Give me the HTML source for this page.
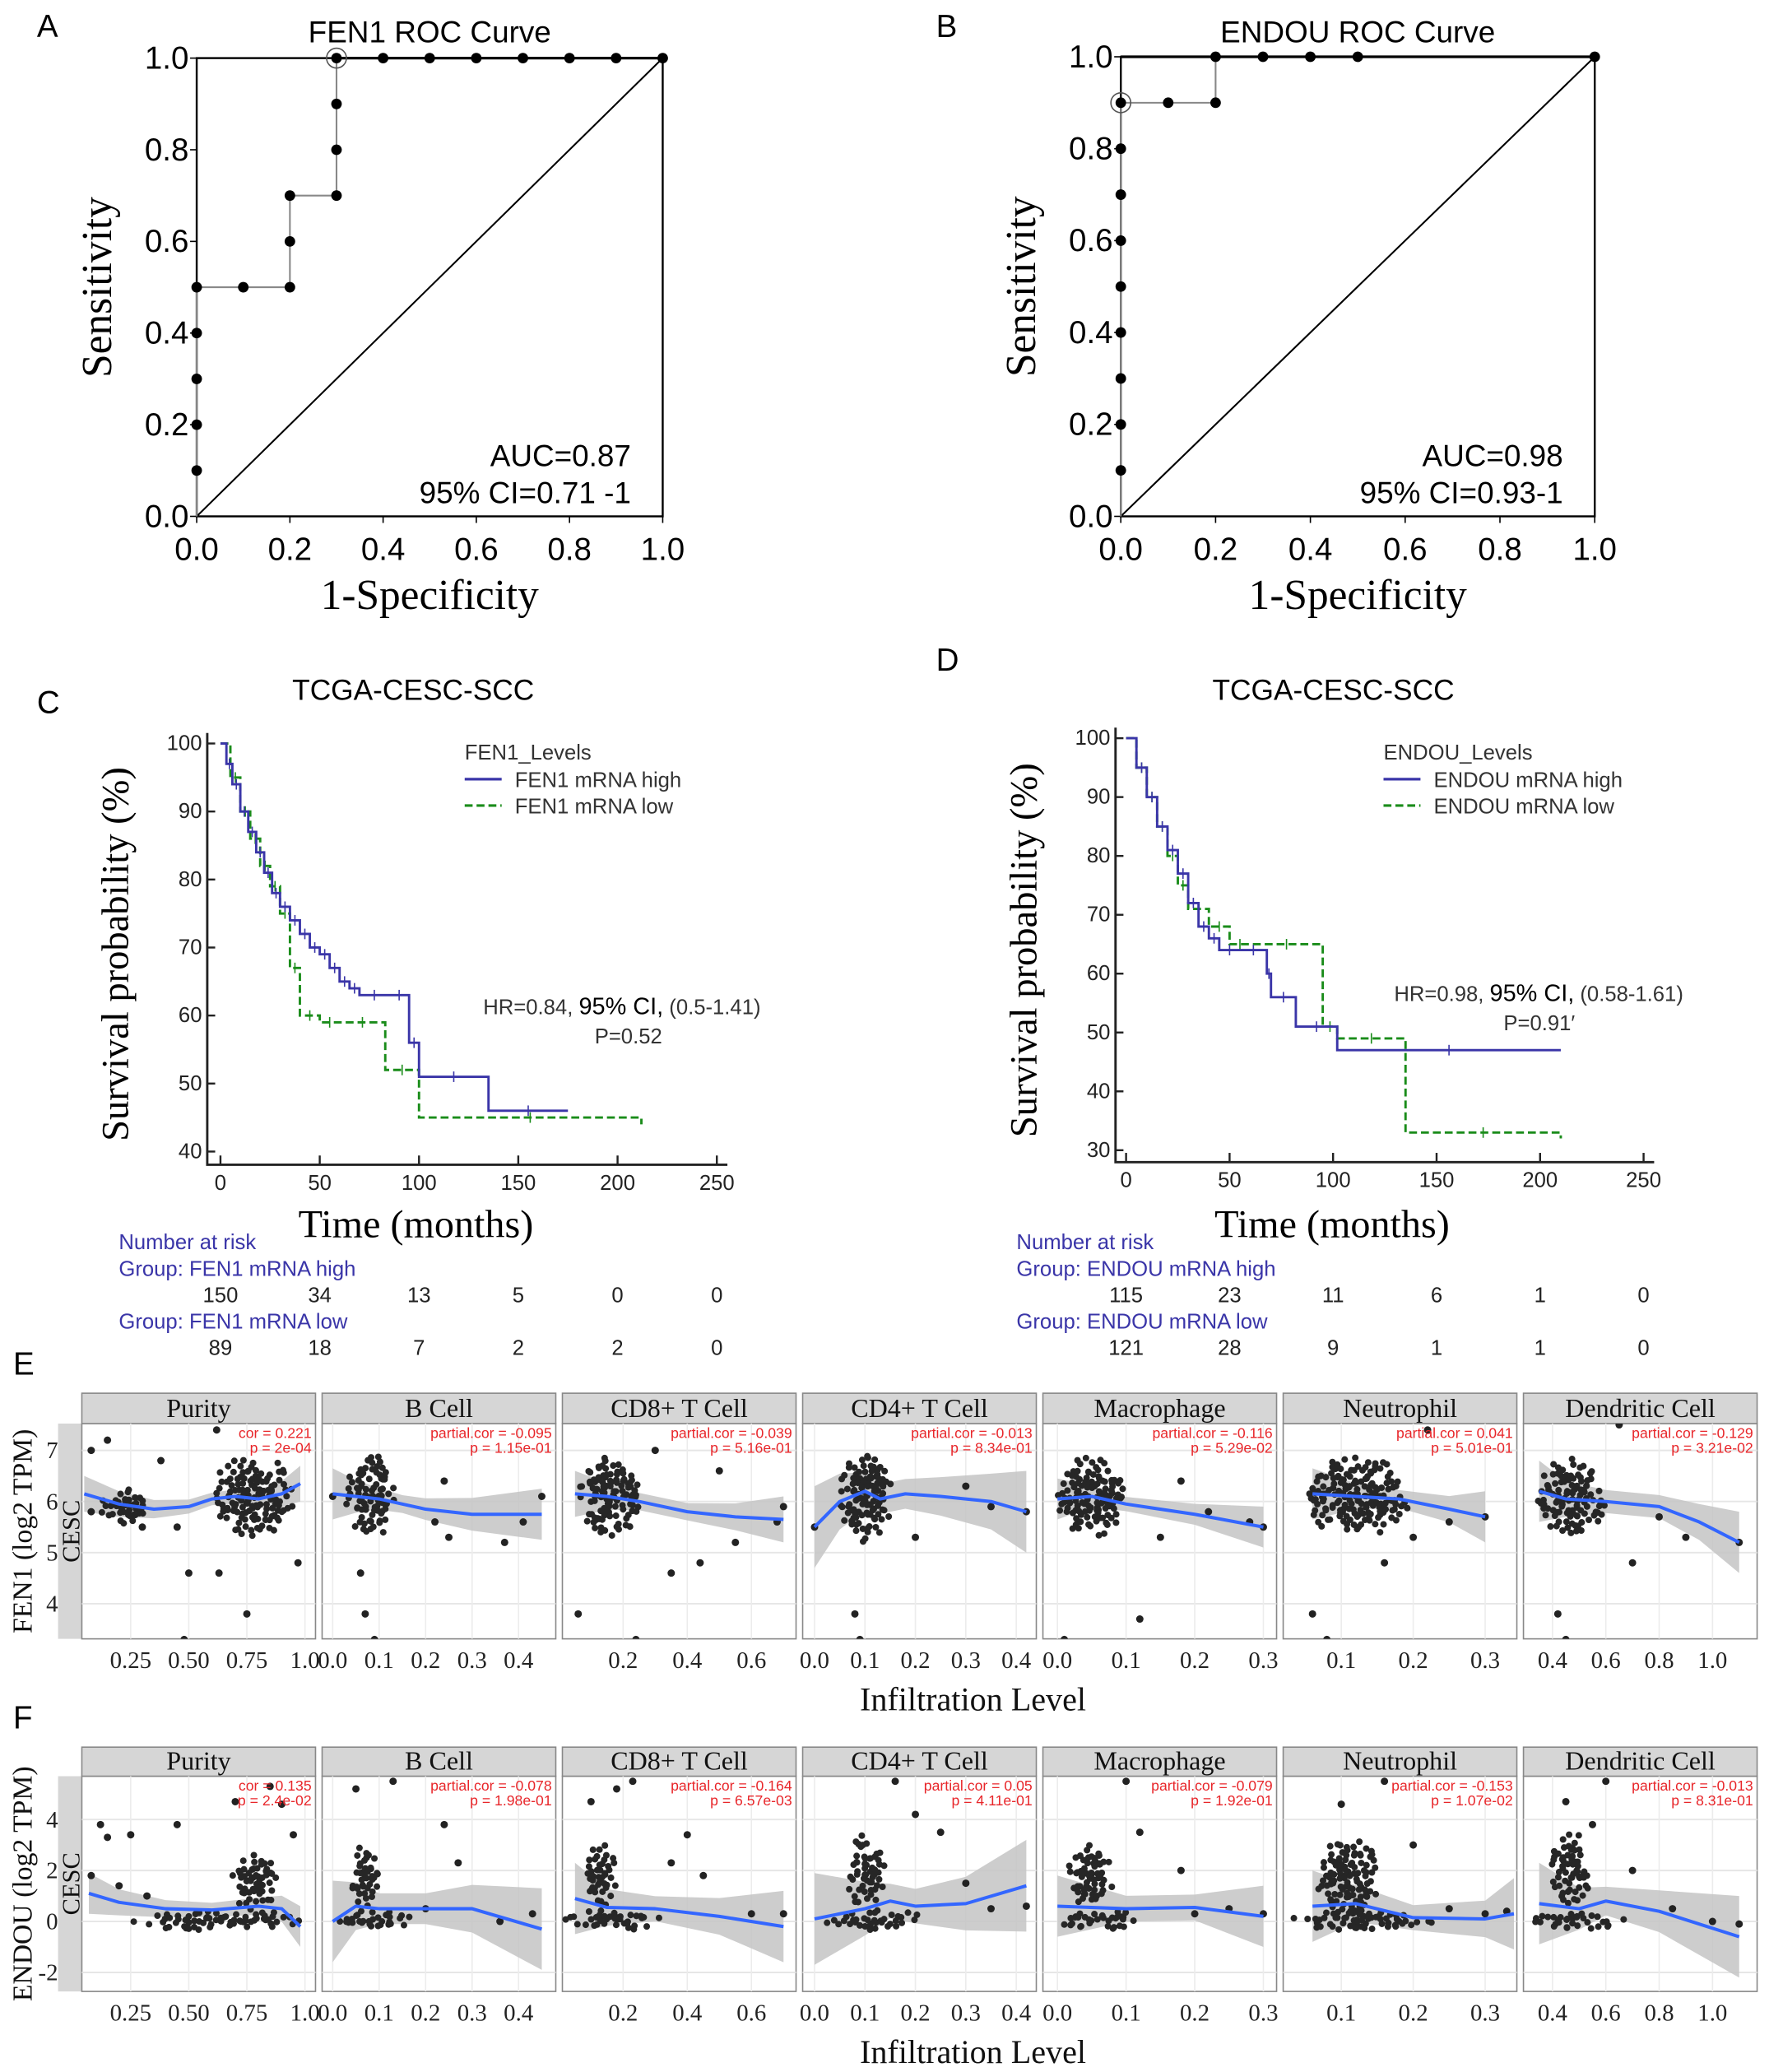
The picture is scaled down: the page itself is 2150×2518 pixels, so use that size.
<!DOCTYPE html>
<html><head><meta charset="utf-8"><style>
html,body{margin:0;padding:0;background:#fff;width:2150px;height:2518px;overflow:hidden}
svg{display:block}
</style></head><body>
<svg id="fig" xmlns="http://www.w3.org/2000/svg" width="2150" height="2518" viewBox="0 0 1340 1569" preserveAspectRatio="none"></svg>
<script>
// ---------- DATA ----------
const rocA_fpr=[0,0,0,0,0,0,0.1,0.2,0.2,0.2,0.3,0.3,0.3,0.3,0.4,0.5,0.6,0.7,0.8,0.9,1.0];
const rocA_tpr=[0,0.1,0.2,0.3,0.4,0.5,0.5,0.5,0.6,0.7,0.7,0.8,0.9,1.0,1.0,1.0,1.0,1.0,1.0,1.0,1.0];
const rocB_fpr=[0,0,0,0,0,0,0,0,0,0,0.1,0.2,0.2,0.3,0.4,0.5,1.0];
const rocB_tpr=[0,0.1,0.2,0.3,0.4,0.5,0.6,0.7,0.8,0.9,0.9,0.9,1.0,1.0,1.0,1.0,1.0];
const rocTicks=[0,0.2,0.4,0.6,0.8,1.0];
const kmC_hiT=[0,3,6,10,14,18,22,26,30,35,40,45,50,55,60,65,70,85,95,100,135,175];
const kmC_hiS=[100,97,94,90,87,84,81,78,76,74,72,70,69,67,65,64,63,63,56,51,46,46];
const kmC_loT=[0,5,10,15,20,25,30,35,40,50,60,83,100,212];
const kmC_loS=[100,95,90,86,82,79,75,67,60,59,59,52,45,44];
const kmD_hiT=[0,5,10,15,20,25,30,35,40,45,55,68,70,82,102,210];
const kmD_hiS=[100,95,90,85,81,77,72,68,66,64,64,60,56,51,47,47];
const kmD_loT=[0,5,10,15,20,25,30,40,50,60,95,102,135,210];
const kmD_loS=[100,95,90,85,80,75,71,68,65,65,51,49,33,32];
const kmTicksX=[0,50,100,150,200,250];
const kmC_TicksY=[40,50,60,70,80,90,100];
const kmD_TicksY=[30,40,50,60,70,80,90,100];
const riskC_hi=[150,34,13,5,0,0];
const riskC_lo=[89,18,7,2,2,0];
const riskD_hi=[115,23,11,6,1,0];
const riskD_lo=[121,28,9,1,1,0];
const panelNames=["Purity","B Cell","CD8+ T Cell","CD4+ T Cell","Macrophage","Neutrophil","Dendritic Cell"];
const panelTicks=[["0.25","0.50","0.75","1.0"],["0.0","0.1","0.2","0.3","0.4"],["0.2","0.4","0.6"],["0.0","0.1","0.2","0.3","0.4"],["0.0","0.1","0.2","0.3"],["0.1","0.2","0.3"],["0.4","0.6","0.8","1.0"]];
const corE=[["cor = 0.221","p = 2e-04"],["partial.cor = -0.095","p = 1.15e-01"],["partial.cor = -0.039","p = 5.16e-01"],["partial.cor = -0.013","p = 8.34e-01"],["partial.cor = -0.116","p = 5.29e-02"],["partial.cor = 0.041","p = 5.01e-01"],["partial.cor = -0.129","p = 3.21e-02"]];
const corF=[["cor = 0.135","p = 2.4e-02"],["partial.cor = -0.078","p = 1.98e-01"],["partial.cor = -0.164","p = 6.57e-03"],["partial.cor = 0.05","p = 4.11e-01"],["partial.cor = -0.079","p = 1.92e-01"],["partial.cor = -0.153","p = 1.07e-02"],["partial.cor = -0.013","p = 8.31e-01"]];
// clouds: [cx, cy, rx, ry] in data units (dense point regions)
const cloudE=[[[0.78,6.1,0.18,0.8],[0.22,5.9,0.1,0.35]],[[0.08,6.1,0.055,0.85]],[[0.16,6.1,0.1,0.8]],[[0.1,6.1,0.055,0.9]],[[0.05,6.1,0.05,0.8]],[[0.12,6.1,0.075,0.8]],[[0.47,6.1,0.13,0.8]]];
const cloudF=[[[0.62,0.05,0.38,0.4],[0.78,1.6,0.1,1.2]],[[0.09,0.05,0.085,0.4],[0.07,1.8,0.03,1.5]],[[0.17,0.05,0.15,0.4],[0.13,1.8,0.055,1.3]],[[0.12,0.05,0.1,0.4],[0.1,2.0,0.04,1.5]],[[0.06,0.05,0.065,0.4],[0.05,1.8,0.035,1.3]],[[0.13,0.05,0.1,0.4],[0.11,1.8,0.045,1.5]],[[0.5,0.05,0.18,0.4],[0.47,2.0,0.075,1.5]]];
const outE=[[[0.08,7.0],[0.15,7.2],[0.38,6.8],[0.5,4.6],[0.48,3.3],[0.75,3.8],[0.63,4.6],[0.97,4.8],[0.08,5.8],[0.3,5.5],[0.45,5.5],[0.62,7.4]],[[0.09,3.3],[0.07,3.8],[0.06,4.6],[0.24,6.4],[0.37,5.2],[0.41,5.6],[0.45,6.1],[0.25,5.3],[0.22,5.6],[0.0,6.1]],[[0.06,3.8],[0.24,3.3],[0.35,4.6],[0.44,4.8],[0.5,6.6],[0.55,5.2],[0.68,5.6],[0.7,5.9],[0.3,7.0]],[[0.08,3.8],[0.09,3.3],[0.3,6.3],[0.35,5.9],[0.42,5.8],[0.2,5.3],[0.0,5.5]],[[0.01,3.3],[0.12,3.7],[0.15,5.3],[0.22,5.8],[0.28,5.6],[0.3,5.5],[0.18,6.4]],[[0.08,3.3],[0.06,3.8],[0.2,5.3],[0.25,5.6],[0.3,5.7],[0.22,7.4],[0.16,4.8]],[[0.45,3.3],[0.42,3.8],[0.8,5.7],[0.9,5.3],[1.1,5.2],[0.65,7.5],[0.7,4.8]]];
const outF=[[[0.12,3.8],[0.15,3.3],[0.25,3.4],[0.45,3.8],[0.7,4.7],[0.85,5.3],[0.9,4.6],[0.95,3.4],[0.08,1.8],[0.2,1.4],[0.32,1.0]],[[0.13,5.5],[0.05,5.2],[0.24,3.8],[0.27,2.3],[0.36,0.0],[0.43,0.3],[0.2,0.5]],[[0.23,5.5],[0.18,5.2],[0.1,4.7],[0.4,3.4],[0.45,1.8],[0.6,0.3],[0.7,0.3],[0.35,2.3]],[[0.16,5.5],[0.2,4.2],[0.25,3.5],[0.3,1.5],[0.42,0.6],[0.35,0.5]],[[0.1,5.5],[0.12,3.5],[0.18,2.0],[0.25,0.5],[0.3,0.3],[0.2,0.3]],[[0.16,5.5],[0.1,4.6],[0.2,3.0],[0.25,0.5],[0.3,0.3],[0.33,0.4]],[[0.6,5.5],[0.45,4.7],[0.55,3.8],[0.7,2.0],[0.85,0.5],[1.0,0.0],[1.1,-0.1]]];
const smoothE=[[[0.05,6.15],[0.2,5.95],[0.35,5.85],[0.5,5.9],[0.6,6.05],[0.7,6.1],[0.8,6.05],[0.9,6.15],[0.98,6.35]],[[0,6.15],[0.05,6.1],[0.1,6.05],[0.15,5.95],[0.2,5.85],[0.3,5.75],[0.45,5.75]],[[0.05,6.15],[0.15,6.1],[0.25,6.0],[0.4,5.8],[0.55,5.7],[0.7,5.65]],[[0,5.5],[0.05,6.0],[0.1,6.2],[0.13,6.05],[0.18,6.15],[0.25,6.1],[0.35,6.0],[0.42,5.8]],[[0,6.05],[0.05,6.1],[0.1,5.95],[0.2,5.75],[0.3,5.5]],[[0.06,6.15],[0.12,6.1],[0.18,6.05],[0.25,5.85],[0.3,5.7]],[[0.35,6.2],[0.45,6.05],[0.6,6.0],[0.8,5.9],[0.95,5.6],[1.1,5.2]]];
const smoothF=[[[0.07,1.1],[0.2,0.75],[0.4,0.5],[0.6,0.45],[0.8,0.6],[0.9,0.5],[0.98,-0.2]],[[0,0.0],[0.05,0.6],[0.1,0.5],[0.2,0.5],[0.3,0.5],[0.45,-0.3]],[[0.05,0.9],[0.15,0.55],[0.3,0.5],[0.5,0.2],[0.7,-0.2]],[[0,0.1],[0.1,0.5],[0.15,0.8],[0.2,0.6],[0.3,0.7],[0.42,1.4]],[[0,0.6],[0.1,0.5],[0.2,0.55],[0.3,0.2]],[[0.06,0.6],[0.12,0.7],[0.2,0.15],[0.3,0.1],[0.34,0.3]],[[0.35,0.7],[0.5,0.5],[0.6,0.8],[0.8,0.4],[1.1,-0.6]]];
const ribE=[0.35,0.5,0.45,0.8,0.4,0.5,0.6];
const ribF=[0.8,1.6,1.4,1.8,1.2,1.4,1.6];

// ---------- helpers ----------
const svg=document.getElementById('fig');
const NS='http://www.w3.org/2000/svg';
function mk(tag,attrs,parent){const e=document.createElementNS(NS,tag);for(const k in attrs)e.setAttribute(k,attrs[k]);(parent||svg).appendChild(e);return e;}
function txt(x,y,s,size,fam,anchor,fill,parent,weight){const t=mk('text',{x:x,y:y,'font-size':size,'font-family':fam,'text-anchor':anchor||'start',fill:fill||'#000','font-weight':weight||'normal'},parent);t.textContent=s;return t;}
const SANS='"Liberation Sans", sans-serif', SERIF='"Liberation Serif", serif';
function hash(n){const s=Math.sin(n*12.9898+78.233)*43758.5453;return s-Math.floor(s);}

// ---------- ROC ----------
function roc(x0,x1,y0,y1,fpr,tpr,title,auc,ci,letter,lx,name,optIdx){
  const g=mk('g',{});
  
  
  const X=v=>x0+v*(x1-x0), Y=v=>y1-v*(y1-y0);
  const l=txt(lx,28,letter,24,SANS,'start','#000',g);
  
  
  const t=txt((x0+x1)/2,32,title,23,SANS,'middle','#000',g);
  
  
  const box=mk('rect',{x:x0,y:y0,width:x1-x0,height:y1-y0,fill:'none',stroke:'#000','stroke-width':1.5},g);
  
  
  const diag=mk('line',{x1:X(0),y1:Y(0),x2:X(1),y2:Y(1),stroke:'#000','stroke-width':1.3},g);
  
  
  rocTicks.forEach(v=>{
    mk('line',{x1:X(v),y1:y1,x2:X(v),y2:y1+5,stroke:'#000'},g);
    mk('line',{x1:x0-5,y1:Y(v),x2:x0,y2:Y(v),stroke:'#000'},g);
    const a=txt(X(v),y1+33,v.toFixed(1),24,SANS,'middle','#000',g);
    
    
    const b=txt(x0-6,Y(v)+8,v.toFixed(1),24,SANS,'end','#000',g);
    
    
  });
  let d='';fpr.forEach((v,i)=>{d+=(i?'L':'M')+X(v)+' '+Y(tpr[i]);});
  const p=mk('path',{d:d,fill:'none',stroke:'#888','stroke-width':1.3},g);
  
  
  const top=mk('line',{x1:X(fpr[optIdx]),y1:y0,x2:x1,y2:y0,stroke:'#000','stroke-width':2},g);
  
  
  fpr.forEach((v,i)=>{if(i===0)return;
    const c=mk('circle',{cx:X(v),cy:Y(tpr[i]),r:4,fill:'#000'},g);
    
    
  });
  const o=mk('circle',{cx:X(fpr[optIdx]),cy:Y(tpr[optIdx]),r:7.5,fill:'none',stroke:'#555','stroke-width':1},g);
  
  
  const yt=txt(0,0,'Sensitivity',32,SERIF,'middle','#000',g);
  yt.setAttribute('transform','translate('+(x0-65)+','+((y0+y1)/2)+') rotate(-90)');
  
  
  const xt=txt((x0+x1)/2,y1+70,'1-Specificity',32,SERIF,'middle','#000',g);
  
  
  const a1=txt(x1-24,y1-38,auc,23,SANS,'end','#000',g);
  
  
  const a2=txt(x1-24,y1-10,ci,23,SANS,'end','#000',g);
  
  
}
roc(149,502,44,391,rocA_fpr,rocA_tpr,'FEN1 ROC Curve','AUC=0.87','95% CI=0.71 -1','A',28,'roc-fen1',13);
roc(849,1208,43,391,rocB_fpr,rocB_tpr,'ENDOU ROC Curve','AUC=0.98','95% CI=0.93-1','B',709,'roc-endou',9);

// ---------- KM ----------
function km(o){
  const g=mk('g',{});
  
  
  const X=t=>o.x0+t*o.sx, Y=s=>o.ytop+(o.ymax-s)*o.sy;
  const l=txt(o.lx,o.ly,o.letter,24,SANS,'start','#000',g);
  
  
  const t=txt(o.tx,530,'TCGA-CESC-SCC',22,SANS,'middle','#000',g);
  
  
  const ax=mk('path',{d:'M'+o.ax+' '+(o.ytop-8)+'V'+o.ab+'H'+(X(250)+8),fill:'none',stroke:'#222','stroke-width':1.8},g);
  
  
  kmTicksX.forEach(v=>{mk('line',{x1:X(v),y1:o.ab,x2:X(v),y2:o.ab-7,stroke:'#222','stroke-width':1.5},g);
    const a=txt(X(v),o.ab+19,String(v),16,SANS,'middle','#222',g);
    
    });
  o.ticksY.forEach(v=>{mk('line',{x1:o.ax,y1:Y(v),x2:o.ax+6,y2:Y(v),stroke:'#222','stroke-width':1.5},g);
    const a=txt(o.ax-4,Y(v)+5,String(v),16,SANS,'end','#222',g);
    
    });
  function step(T,S,col,dash,nm){
    let d='M'+X(T[0])+' '+Y(S[0]);
    for(let i=1;i<T.length;i++){d+='H'+X(T[i])+'V'+Y(S[i]);}
    const p=mk('path',{d:d,fill:'none',stroke:col,'stroke-width':1.8,'stroke-dasharray':dash||'none'},g);
    
    
    for(let i=1;i<T.length-1;i+=1){const m=(T[i]+T[i+1])/2;
      const c=mk('line',{x1:X(m),y1:Y(S[i])-4,x2:X(m),y2:Y(S[i])+4,stroke:col,'stroke-width':1},g);
      
      }
  }
  step(o.loT,o.loS,'#1a8c1a','6 3','survival-curve-low');
  step(o.hiT,o.hiS,'#3a35a8',null,'survival-curve-high');
  const lg=mk('g',{},g);
  
  
  txt(o.legx,575,o.gene+'_Levels',16,SANS,'start','#333',lg);
  mk('line',{x1:o.legx,y1:590,x2:o.legx+28,y2:590,stroke:'#3a35a8','stroke-width':2},lg);
  txt(o.legx+38,596,o.gene+' mRNA high',16,SANS,'start','#333',lg);
  mk('line',{x1:o.legx,y1:610,x2:o.legx+28,y2:610,stroke:'#1a8c1a','stroke-width':2,'stroke-dasharray':'6 3'},lg);
  txt(o.legx+38,616,o.gene+' mRNA low',16,SANS,'start','#333',lg);
  const hr=txt(o.hrx,o.hry,'',16,SANS,'start','#333',g);
  
  
  hr.innerHTML=o.hr1+'<tspan font-size="18" fill="#000">95% CI,</tspan>'+o.hr2;
  const pv=txt(o.hrx+110,o.hry+22,o.p,16,SANS,'middle','#333',g);
  
  
  const yt=txt(0,0,'Survival probability (%)',29,SERIF,'middle','#000',g);
  yt.setAttribute('transform','translate('+(o.ax-60)+','+((o.ytop+o.ab)/2)+') rotate(-90)');
  
  
  const xt=txt(X(125)-40,937,'Time (months)',30,SERIF,'middle','#000',g);
  
  
  const rt=mk('g',{},g);
  
  
  txt(o.rx,946,'Number at risk',16,SANS,'start','#3a35a8',rt);
  txt(o.rx,966,'Group: '+o.gene+' mRNA high',16,SANS,'start','#3a35a8',rt);
  txt(o.rx,1006,'Group: '+o.gene+' mRNA low',16,SANS,'start','#3a35a8',rt);
  kmTicksX.forEach((v,i)=>{txt(X(v),986,String(o.rh[i]),16,SANS,'middle','#222',rt);txt(X(v),1026,String(o.rl[i]),16,SANS,'middle','#222',rt);});
}
km({name:'km-fen1',letter:'C',lx:28,ly:540,tx:313,gene:'FEN1',x0:167,sx:1.504,ytop:563,ymax:100,sy:5.15,ax:157,ab:882,ticksY:kmC_TicksY,hiT:kmC_hiT,hiS:kmC_hiS,loT:kmC_loT,loS:kmC_loS,legx:352,hrx:366,hry:768,hr1:'HR=0.84, ',hr2:' (0.5-1.41)',p:'P=0.52',rx:90,rh:riskC_hi,rl:riskC_lo});
km({name:'km-endou',letter:'D',lx:709,ly:508,tx:1010,gene:'ENDOU',x0:853,sx:1.568,ytop:559,ymax:100,sy:4.457,ax:845,ab:880,ticksY:kmD_TicksY,hiT:kmD_hiT,hiS:kmD_hiS,loT:kmD_loT,loS:kmD_loS,legx:1048,hrx:1056,hry:758,hr1:'HR=0.98, ',hr2:' (0.58-1.61)',p:'P=0.91\u2032',rx:770,rh:riskD_hi,rl:riskD_lo});

// ---------- Scatter grids ----------
const pxL=[62,244,426,608,790,972,1154], pxW=177;
const xmapsE=[[0.25,99,176],[0,252,352],[0.2,472,243],[0,617,382],[0,801,520],[0.1,1016,545],[0.4,1176,202]];
const tickValsE=[[0.25,0.5,0.75,1.0],[0,0.1,0.2,0.3,0.4],[0.2,0.4,0.6],[0,0.1,0.2,0.3,0.4],[0,0.1,0.2,0.3],[0.1,0.2,0.3],[0.4,0.6,0.8,1.0]];
function grid(o){
  const g=mk('g',{});
  
  
  const Y=o.Y;
  const l=txt(10,o.stripTop-14,o.letter,24,SANS,'start','#000',g);
  
  
  const side=mk('rect',{x:44,y:o.plotTop,width:18,height:o.plotBot-o.plotTop,fill:'#d6d6d6'},g);
  
  
  const cs=txt(0,0,'CESC',19,SERIF,'middle','#111',g);
  cs.setAttribute('transform','translate(60,'+((o.plotTop+o.plotBot)/2)+') rotate(-90)');
  
  
  const yt=txt(0,0,o.ylab,21,SERIF,'middle','#111',g);
  yt.setAttribute('transform','translate(24,'+((o.plotTop+o.plotBot)/2)+') rotate(-90)');
  
  
  o.yticks.forEach(v=>{const a=txt(44,Y(v)+6,String(v),18,SERIF,'end','#222',g);
    
    });
  let seed=o.seed;
  for(let i=0;i<7;i++){
    const x0=pxL[i],x1=x0+pxW;
    const m=xmapsE[i]; const X=v=>m[1]+(v-m[0])*m[2];
    const pg=mk('g',{},g);
    
    
    const cid='clip'+o.letter+i;
    const cp=mk('clipPath',{id:cid},pg);mk('rect',{x:x0,y:o.plotTop,width:pxW,height:o.plotBot-o.plotTop},cp);
    mk('rect',{x:x0,y:o.plotTop,width:pxW,height:o.plotBot-o.plotTop,fill:'#fff',stroke:'#888','stroke-width':1},pg);
    const st=mk('rect',{x:x0,y:o.stripTop,width:pxW,height:o.plotTop-o.stripTop,fill:'#d6d6d6',stroke:'#888','stroke-width':1},pg);
    
    
    const sl=txt(x0+pxW/2,o.plotTop-5,panelNames[i],20,SERIF,'middle','#111',pg);
    
    
    const inner=mk('g',{'clip-path':'url(#'+cid+')'},pg);
    o.yticks.forEach(v=>mk('line',{x1:x0,y1:Y(v),x2:x1,y2:Y(v),stroke:'#e6e6e6','stroke-width':1.2},inner));
    tickValsE[i].forEach(v=>mk('line',{x1:X(v),y1:o.plotTop,x2:X(v),y2:o.plotBot,stroke:'#ececec','stroke-width':1},inner));
    const sm=o.smooth[i], rw=o.rib[i];
    const wAt=k=>rw*(0.35+0.65*Math.pow(Math.abs(k-(sm.length-1)/2)/((sm.length-1)/2),2));
    let up='',dn='';
    sm.forEach((p,k)=>{up+=(k?'L':'M')+X(p[0])+' '+Y(p[1]+wAt(k));});
    for(let k=sm.length-1;k>=0;k--){const p=sm[k];dn+='L'+X(p[0])+' '+Y(p[1]-wAt(k));}
    const rb=mk('path',{d:up+dn+'Z',fill:'#c4c4c4','fill-opacity':0.85},inner);
    
    
    // dense point regions rendered as a dotted texture inside each cloud ellipse
    o.cloud[i].forEach(c=>{
      const cg=mk('g',{fill:'#262626'},inner);
      
      
      const cx=X(c[0]),cy=Y(c[1]),rx=c[2]*m[2],ry=Math.abs(Y(c[1]+c[3])-Y(c[1]));
      for(let yy=cy-ry;yy<=cy+ry;yy+=3.6){for(let xx=cx-rx;xx<=cx+rx;xx+=3.6){
        seed++;
        const jx=xx+(hash(seed)-0.5)*4,jy=yy+(hash(seed+0.5)-0.5)*4;
        const dd=Math.pow((jx-cx)/rx,2)+Math.pow((jy-cy)/ry,2);
        if(dd>1)continue;
        if(hash(seed*1.7)<dd*0.75+0.05)continue;
        mk('circle',{cx:jx.toFixed(1),cy:jy.toFixed(1),r:2.5},cg);
      }}
    });
    o.out[i].forEach(p=>{
      const c=mk('circle',{cx:X(p[0]),cy:Y(p[1]),r:2.8,fill:'#222'},inner);
      
      
    });
    let d='';sm.forEach((p,k)=>{d+=(k?'L':'M')+X(p[0])+' '+Y(p[1]);});
    const ln=mk('path',{d:d,fill:'none',stroke:'#3366ff','stroke-width':2.5,'stroke-linejoin':'round'},inner);
    
    
    const c1=txt(x1-3,o.plotTop+11,o.cor[i][0],11,SANS,'end','#e8262a',pg);
    
    
    const c2=txt(x1-3,o.plotTop+22,o.cor[i][1],11,SANS,'end','#e8262a',pg);
    
    
    panelTicks[i].forEach((s,k)=>{const a=txt(X(tickValsE[i][k]),o.plotBot+22,s,18,SERIF,'middle','#222',pg);
      
      });
  }
  const xt=txt(737,o.plotBot+54,'Infiltration Level',25,SERIF,'middle','#111',g);
  
  
}
grid({name:'scatter-fen1',letter:'E',seed:1,stripTop:1055,plotTop:1078,plotBot:1241,Y:v=>1137-(v-6)*38.7,yticks:[4,5,6,7],ylab:'FEN1 (log2 TPM)',cloud:cloudE,out:outE,smooth:smoothE,rib:ribE,cor:corE});
grid({name:'scatter-endou',letter:'F',seed:5000,stripTop:1323,plotTop:1345,plotBot:1508,Y:v=>1455-v*19.3,yticks:[-2,0,2,4],ylab:'ENDOU (log2 TPM)',cloud:cloudF,out:outF,smooth:smoothF,rib:ribF,cor:corF});
</script>
</body></html>
